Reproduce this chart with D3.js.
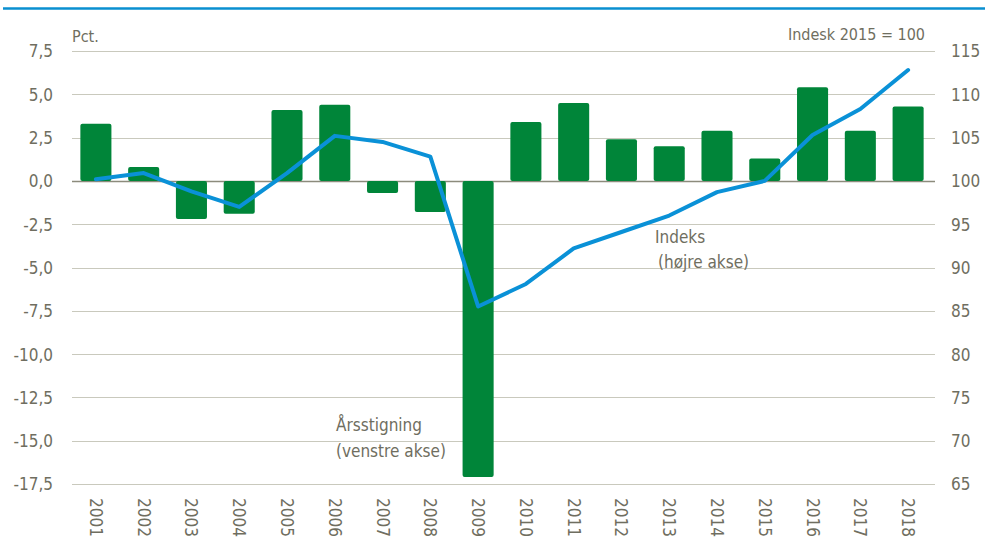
<!DOCTYPE html>
<html>
<head>
<meta charset="utf-8">
<script src="https://cdn.jsdelivr.net/npm/d3@7"></script>
<style>
  body { margin: 0; background: #fff; }
  svg text { font-family: "Liberation Sans Narrow", "DejaVu Sans Condensed", "Liberation Sans", sans-serif; fill: #6f6e60; }
</style>
</head>
<body>
<div id="chart"></div>
<script>
const years = [2001, 2002, 2003, 2004, 2005, 2006, 2007, 2008, 2009, 2010, 2011, 2012, 2013, 2014, 2015, 2016, 2017, 2018];
const growth = [3.3, 0.8, -2.2, -1.9, 4.1, 4.4, -0.7, -1.8, -17.1, 3.4, 4.5, 2.4, 2.0, 2.9, 1.3, 5.4, 2.9, 4.3];
const index = [100.2, 100.9, 98.8, 97.0, 100.9, 105.2, 104.5, 102.8, 85.5, 88.1, 92.2, 94.1, 96.0, 98.7, 100.0, 105.3, 108.3, 112.8];
const leftTicks = [7.5, 5.0, 2.5, 0.0, -2.5, -5.0, -7.5, -10.0, -12.5, -15.0, -17.5];
const rightTicks = [115, 110, 105, 100, 95, 90, 85, 80, 75, 70, 65];

const width = 985, height = 540;
const ml = 72, mr = 53, mt = 51, plotBottom = 484;
const green = '#008539', blue = '#0a91d7';

const svg = d3.select('#chart').append('svg')
    .attr('width', width).attr('height', height);

// header rule
svg.append('line')
    .attr('x1', 3).attr('x2', width).attr('y1', 8.5).attr('y2', 8.5)
    .attr('stroke', '#0a8fd0').attr('stroke-width', 2.5);

const X = d3.scaleBand().domain(years).range([ml, width - mr]).paddingInner(0.35).paddingOuter(0.175);
const YL = d3.scaleLinear().domain([-17.5, 7.5]).range([plotBottom, mt]);
const YR = d3.scaleLinear().domain([65, 115]).range([plotBottom, mt]);

// grid
svg.append('g').selectAll('line').data(leftTicks).join('line')
    .attr('x1', ml).attr('x2', width - mr + 3)
    .attr('y1', d => Math.round(YL(d)) + 0.5).attr('y2', d => Math.round(YL(d)) + 0.5)
    .attr('stroke', d => d === 0 ? '#8c8b7c' : '#c9c9bd')
    .attr('stroke-width', d => d === 0 ? 1.5 : 1.2);

// left axis (comma decimals, plain hyphen minus)
const yAxisL = d3.axisLeft(YL).tickValues(leftTicks).tickSize(0).tickPadding(0)
    .tickFormat(d => d3.format('.1f')(d).replace('.', ',').replace('\u2212', '-'));
svg.append('g').attr('transform', `translate(53,0)`).call(yAxisL)
    .call(g => g.select('.domain').remove())
    .selectAll('text').style('font-size', '17px').attr('dy', '0.35em');

// right axis
const yAxisR = d3.axisRight(YR).tickValues(rightTicks).tickSize(0).tickPadding(0);
svg.append('g').attr('transform', `translate(951,0)`).call(yAxisR)
    .call(g => g.select('.domain').remove())
    .selectAll('text').style('font-size', '17px').attr('dy', '0.35em');

// bars
svg.append('g').selectAll('rect').data(years).join('rect')
    .attr('x', d => X(d))
    .attr('width', X.bandwidth())
    .attr('y', (d, i) => YL(Math.max(0, growth[i])))
    .attr('height', (d, i) => Math.abs(YL(growth[i]) - YL(0)))
    .attr('rx', 2)
    .attr('fill', green);

// index line
const line = d3.line().x((d, i) => X(years[i]) + X.bandwidth() / 2).y(d => YR(d));
svg.append('path').datum(index)
    .attr('d', line)
    .attr('fill', 'none')
    .attr('stroke', blue)
    .attr('stroke-width', 4)
    .attr('stroke-linecap', 'round')
    .attr('stroke-linejoin', 'round');

// x labels
svg.append('g').selectAll('text').data(years).join('text')
    .attr('transform', d => `translate(${X(d) + X.bandwidth() / 2},498) rotate(90)`)
    .attr('dy', '0.35em')
    .style('font-size', '17px')
    .text(d => d);

// unit labels
svg.append('text').attr('x', 72).attr('y', 42).style('font-size', '16px').text('Pct.');
svg.append('text').attr('x', 925).attr('y', 40).attr('text-anchor', 'end').style('font-size', '16px').text('Indesk 2015 = 100');

// annotations
svg.append('text').attr('x', 655).attr('y', 243).style('font-size', '17px').text('Indeks');
svg.append('text').attr('x', 658).attr('y', 268).style('font-size', '17px').text('(højre akse)');
svg.append('text').attr('x', 336).attr('y', 431).style('font-size', '17px').text('Årsstigning');
svg.append('text').attr('x', 336).attr('y', 457).style('font-size', '17px').text('(venstre akse)');
</script>
</body>
</html>
